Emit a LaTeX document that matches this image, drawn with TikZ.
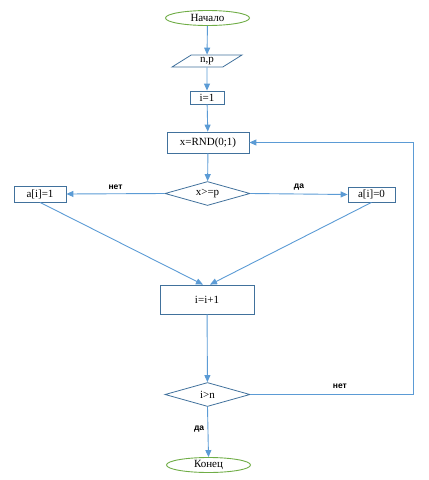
\documentclass[tikz,border=0pt]{standalone}
\usepackage{fontspec}
\setmainfont{Liberation Serif}
\newfontfamily\labelfont{Liberation Sans}
\usetikzlibrary{shapes.geometric,arrows.meta}

\definecolor{lineblue}{HTML}{5B9BD5}
\definecolor{boxblue}{HTML}{41719C}
\definecolor{termgreen}{HTML}{70AD47}

\tikzset{
  term/.style={ellipse, draw=termgreen, line width=0.9pt, inner sep=0pt,
               minimum width=84pt, minimum height=15pt, font=\fontsize{11}{11}\selectfont},
  io/.style={trapezium, trapezium left angle=42, trapezium right angle=138,
             trapezium stretches=true, draw=boxblue, line width=0.8pt, inner sep=0pt,
             minimum width=70pt, minimum height=12pt, font=\fontsize{11}{11}\selectfont},
  proc/.style={rectangle, draw=boxblue, line width=0.8pt, inner sep=0pt,
               font=\fontsize{11}{11}\selectfont},
  cond/.style={diamond, draw=boxblue, line width=0.8pt, inner sep=0pt, aspect=3.7,
               minimum width=85pt, minimum height=24pt, font=\fontsize{11}{11}\selectfont},
  flow/.style={draw=lineblue, line width=0.9pt,
               -{Triangle[width=6pt,length=7pt]}},
  answer/.style={font=\labelfont\bfseries\fontsize{8.5}{9}\selectfont}
}

\begin{document}
\begin{tikzpicture}[x=1pt, y=-1pt]

        \useasboundingbox (0,0) rectangle (429,480);

        % blocks
        \node (start) at (207.5,18)  [term] {Начало};
        \node (input) at (207,61)    [io] {n,p};
        \node (init)  at (207,97.5)  [proc, minimum width=34pt, minimum height=13pt] {i=1};
        \node (rnd)   at (208,142.5) [proc, minimum width=82pt, minimum height=21pt] {x=RND(0;1)};
        \node (test)  at (207.5,193.5) [cond] {x>=p};
        \node (one)   at (40,194)    [proc, minimum width=52pt, minimum height=16pt] {a[i]=1};
        \node (zero)  at (371.5,194.5) [proc, minimum width=47pt, minimum height=15pt] {a[i]=0};
        \node (incr)  at (207,299.5) [proc, minimum width=94pt, minimum height=29pt] {i=i+1};
        \node (done)  at (207.5,394.5) [cond] {i>n};
        \node (stop)  at (208.5,465) [term] {Конец};

        \coordinate (loop) at (413,394.5);

        % connectors
        \draw [flow] (start) -- (input);
        \draw [flow] (input) -- (init);
        \draw [flow] (init) -- (rnd);
        \draw [flow] (rnd) -- (test);
        \draw [flow] (test.west) -- node[above, answer] {нет} (one.east);
        \draw [flow] (test.east) -- node[above, answer] {да} (zero.west);
        \draw [flow] (one.south) -- ([xshift=-4pt]incr.north);
        \draw [flow] (zero.south) -- ([xshift=3pt]incr.north);
        \draw [flow] (incr) -- (done);
        \draw [flow] (done.east) -- node[above, answer, pos=0.55, yshift=2pt] {нет} (loop) |- (rnd.east);
        \draw [flow] (done.south) -- node[left, answer, pos=0.45] {да} (stop.north);

\end{tikzpicture}
\end{document}
